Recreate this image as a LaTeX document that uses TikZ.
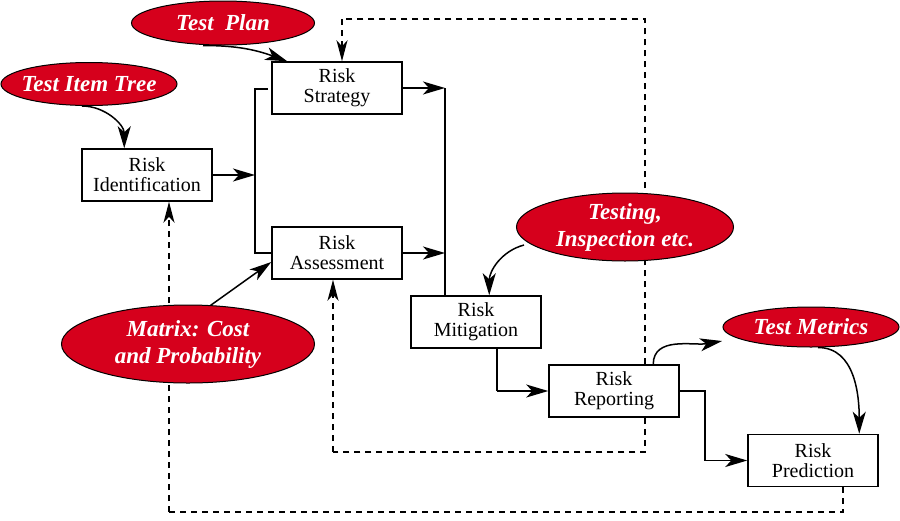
\documentclass[tikz,border=0pt]{standalone}
\usepackage{fontspec}
\setmainfont{Liberation Serif}
\usetikzlibrary{shapes.geometric,arrows.meta,calc,backgrounds}
\definecolor{riskred}{RGB}{214,0,28}
\begin{document}
\begin{tikzpicture}[x=1pt,y=-1pt,
  box/.style={draw,line width=1.5pt,fill=white,minimum width=130pt,minimum height=52pt,inner sep=0pt,align=center,font=\fontsize{20}{20}\selectfont},
  bubble/.style={ellipse,draw=black,line width=1pt,fill=riskred,inner sep=0pt},
  bubbletext/.style={text=white,inner sep=0pt,align=center,font=\fontsize{23}{27}\selectfont\bfseries\itshape},
  conn/.style={line width=1.5pt},
  arr/.style={-{Stealth[length=22pt,width=13pt,inset=6pt]}},
  darr/.style={-{Stealth[length=21pt,width=11pt,inset=6pt]}},
  dashline/.style={line width=1.3pt,dash pattern=on 6pt off 5pt}
]
\useasboundingbox (0,0) rectangle (900,520);
% boxes
\node[box] (rs) at (337,88) {Risk\\Strategy};
\node[box] (ri) at (147,175) {Risk\\Identification};
\node[box] (ra) at (337,253) {Risk\\Assessment};
\node[box] (rm) at (476,322) {Risk\\Mitigation};
\node[box] (rep) at (614,391) {Risk\\Reporting};
\node[box] (rp) at (813,460.5) {Risk\\Prediction};
% bubbles
\node[bubble,minimum width=183pt,minimum height=44pt,label={[bubbletext]center:Test\ \ Plan}] (tp) at (223,23) {};
\node[bubble,minimum width=176pt,minimum height=43pt,label={[bubbletext]center:Test Item Tree}] (tit) at (89,84) {};
\node[bubble,minimum width=217pt,minimum height=68pt,label={[bubbletext]center:Testing,\\Inspection etc.}] (tie) at (625,227) {};
\node[bubble,minimum width=176pt,minimum height=40pt,label={[bubbletext]center:Test Metrics}] (tm) at (811,327) {};
\node[bubble,minimum width=253pt,minimum height=78pt,label={[bubbletext]center:Matrix: Cost\\and Probability}] (mx) at (188,344) {};
% coordinates
\coordinate (busl) at (255,175);
\coordinate (bustop) at (268,89);
\coordinate (busr) at (445,175);
\coordinate (mdrop) at (497,391);
\coordinate (rdrop) at (705,391);
\coordinate (d1) at (843,512);
\coordinate (d2) at (169,512);
\coordinate (d3) at (645,452);
\coordinate (d4) at (333,452);
\coordinate (d5) at (645,19);
\coordinate (d6) at (342,19);
\coordinate (tmin) at (722,341);
\begin{scope}[on background layer]
% dashed feedback lines
\draw[dashline] (rp.south -| d1) -- (d1) -- (d2);
\draw[dashline,darr] (d2) -- (ri.south -| d2);
\draw[dashline] (rep.south -| d3) -- (d3) -- (d4);
\draw[dashline,darr] (d4) -- (ra.south -| d4);
\draw[dashline] (rep.north -| d5) -- (d5) -- (d6);
\draw[dashline,darr] (d6) -- (rs.north -| d6);
% solid flow
\draw[conn,arr] (ri.east) -- (ri.east -| busl);
\draw[conn] (bustop) -- (bustop -| busl) -- (busl |- ra.west) -- (ra.west);
\draw[conn,arr] (rs.east) -- (rs.east -| busr);
\draw[conn,arr] (ra.east) -- (ra.east -| busr);
\draw[conn] (rs.east -| busr) -- (rm.north -| busr);
\draw[conn] (rm.south -| mdrop) -- (mdrop);
\draw[conn,arr] (mdrop) -- (rep.west);
\draw[conn] (rep.east) -- (rdrop) -- (rdrop |- rp.west);
\draw[conn,arr] (rdrop |- rp.west) -- (rp.west);
% bubble inputs
\draw[conn,arr] ($(tp.south)+(-20,0)$) to[out=0,in=160] ($(rs.north west)+(16,0)$);
\draw[conn,arr] ($(tit.south)+(-7,0)$) to[out=0,in=90] ($(ri.north west)+(43,0)$);
\draw[conn,arr] ($(tie.center)+(-101,18)$) to[out=195,in=90] ($(rm.north west)+(79,0)$);
\draw[conn,arr] ($(rep.north west)+(105,0)$) to[out=90,in=190] (tmin);
\draw[conn,arr] ($(tm.south)+(7,0)$) to[out=0,in=90] ($(rp.north west)+(112,0)$);
\draw[conn,arr] ($(mx.north)+(21,2)$) -- ($(ra.west)+(0,9)$);
\end{scope}
\end{tikzpicture}
\end{document}
